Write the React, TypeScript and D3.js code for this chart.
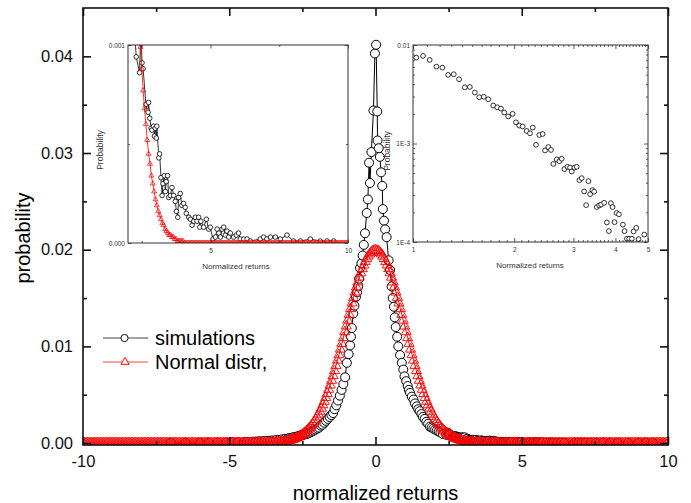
import { useEffect, useRef } from 'react';
import * as d3 from 'd3';

const FONT = '"Liberation Sans", Arial, Helvetica, sans-serif';
const RED = '#ff0000';

// bin centres of the normal curve: -10 ... 10, step 0.05
const normalBins = d3.range(-200, 201).map((i) => i / 20);

// probability per bin
const normalProb = [
  0, 0, 0, 0, 0, 0, 0, 0, 0, 0,
  0, 0, 0, 0, 0, 0, 0, 0, 0, 0,
  0, 0, 0, 0, 0, 0, 0, 0, 0, 0,
  0, 0, 0, 0, 0, 0, 0, 0, 0, 0,
  0, 0, 0, 0, 0, 0, 0, 0, 0, 0,
  0, 0, 0, 0, 0, 0, 0, 0, 0, 0,
  0, 0, 0, 0, 0, 0, 0, 0, 0, 0,
  0, 0, 0, 0, 0, 0, 0, 0, 0, 0,
  0, 0, 0, 0, 0, 0, 0, 0, 0, 0,
  0, 0, 0, 0, 0, 0, 0, 0, 0, 0,
  0, 0, 0, 0, 0, 0, 0, 0, 0, 0,
  0, 0, 0, 0, 0, 0, 0, 0, 0, 0,
  0.00001,
  0.00001, 0.00001, 0.00001, 0.00001, 0.00002, 0.00002, 0.00003, 0.00003, 0.00004, 0.00004,
  0.00005, 0.00006, 0.00007, 0.00009, 0.0001, 0.00012, 0.00014, 0.00016, 0.00019, 0.00022,
  0.00026, 0.0003, 0.00034, 0.0004, 0.00045, 0.00052, 0.0006, 0.00068, 0.00077, 0.00088,
  0.00099, 0.00112, 0.00126, 0.00142, 0.00159, 0.00177, 0.00198, 0.0022, 0.00244, 0.0027,
  0.00298, 0.00328, 0.0036, 0.00395, 0.00431, 0.0047, 0.00511, 0.00555, 0.006, 0.00648,
  0.00697, 0.00749, 0.00802, 0.00857, 0.00913, 0.00971, 0.0103, 0.01089, 0.0115, 0.0121,
  0.0127, 0.0133, 0.0139, 0.01448, 0.01506, 0.01561, 0.01615, 0.01666, 0.01715, 0.0176,
  0.01803, 0.01841, 0.01876, 0.01907, 0.01933, 0.01955, 0.01972, 0.01985, 0.01992,
  0.01995,
  0.01992, 0.01985, 0.01972, 0.01955, 0.01933, 0.01907, 0.01876, 0.01841, 0.01803,
  0.0176, 0.01715, 0.01666, 0.01615, 0.01561, 0.01506, 0.01448, 0.0139, 0.0133, 0.0127,
  0.0121, 0.0115, 0.01089, 0.0103, 0.00971, 0.00913, 0.00857, 0.00802, 0.00749, 0.00697,
  0.00648, 0.006, 0.00555, 0.00511, 0.0047, 0.00431, 0.00395, 0.0036, 0.00328, 0.00298,
  0.0027, 0.00244, 0.0022, 0.00198, 0.00177, 0.00159, 0.00142, 0.00126, 0.00112, 0.00099,
  0.00088, 0.00077, 0.00068, 0.0006, 0.00052, 0.00045, 0.0004, 0.00034, 0.0003, 0.00026,
  0.00022, 0.00019, 0.00016, 0.00014, 0.00012, 0.0001, 0.00009, 0.00007, 0.00006, 0.00005,
  0.00004, 0.00004, 0.00003, 0.00003, 0.00002, 0.00002, 0.00001, 0.00001, 0.00001, 0.00001,
  0.00001,
  0, 0, 0, 0, 0, 0, 0, 0, 0, 0,
  0, 0, 0, 0, 0, 0, 0, 0, 0, 0,
  0, 0, 0, 0, 0, 0, 0, 0, 0, 0,
  0, 0, 0, 0, 0, 0, 0, 0, 0, 0,
  0, 0, 0, 0, 0, 0, 0, 0, 0, 0,
  0, 0, 0, 0, 0, 0, 0, 0, 0, 0,
  0, 0, 0, 0, 0, 0, 0, 0, 0, 0,
  0, 0, 0, 0, 0, 0, 0, 0, 0, 0,
  0, 0, 0, 0, 0, 0, 0, 0, 0, 0,
  0, 0, 0, 0, 0, 0, 0, 0, 0, 0,
  0, 0, 0, 0, 0, 0, 0, 0, 0, 0,
  0, 0, 0, 0, 0, 0, 0, 0, 0, 0,
];

// simulated histogram: [normalized return, probability]
const simulations: [number, number][] = [
  [-7.0, 0.00001], [-6.5, 0.00002], [-6.0, 0.00002], [-5.7, 0.00003], [-5.4, 0.00004],
  [-5.1, 0.00005], [-4.9, 0.00007], [-4.7, 0.00009], [-4.5, 0.0001], [-4.4, 0.00011],
  [-4.3, 0.00012], [-4.2, 0.00014], [-4.1, 0.00016], [-4.0, 0.00018], [-3.9, 0.00019],
  [-3.8, 0.00021], [-3.7, 0.00023], [-3.6, 0.00025], [-3.5, 0.00027], [-3.4, 0.0003],
  [-3.3, 0.00033], [-3.2, 0.00038], [-3.1, 0.00042], [-3.01, 0.00046], [-2.95, 0.0005],
  [-2.89, 0.00054], [-2.83, 0.00058], [-2.77, 0.00061], [-2.71, 0.00066], [-2.65, 0.0007],
  [-2.59, 0.00076], [-2.53, 0.0008], [-2.47, 0.00085], [-2.41, 0.0009], [-2.35, 0.00096],
  [-2.29, 0.00102], [-2.23, 0.0011], [-2.17, 0.0012], [-2.11, 0.0013], [-2.05, 0.0014],
  [-1.99, 0.0015], [-1.93, 0.0016], [-1.87, 0.0018], [-1.81, 0.0019], [-1.75, 0.0021],
  [-1.69, 0.0023], [-1.63, 0.0025], [-1.57, 0.0027], [-1.51, 0.0029], [-1.45, 0.0031],
  [-1.4, 0.0035], [-1.34, 0.0039], [-1.28, 0.0044], [-1.22, 0.0049], [-1.16, 0.0055],
  [-1.1, 0.0061], [-1.04, 0.0068], [-0.98, 0.0083], [-0.92, 0.0092], [-0.87, 0.0101],
  [-0.84, 0.011], [-0.81, 0.0119], [-0.76, 0.0134], [-0.72, 0.0142], [-0.67, 0.0151],
  [-0.63, 0.0156], [-0.59, 0.0162], [-0.56, 0.017], [-0.53, 0.0181], [-0.48, 0.0186],
  [-0.44, 0.0194], [-0.4, 0.0205], [-0.36, 0.0217], [-0.3, 0.0238], [-0.26, 0.0252],
  [-0.22, 0.029], [-0.19, 0.0269], [-0.14, 0.0301], [-0.07, 0.0344], [-0.02, 0.0403],
  [0.02, 0.0412], [0.06, 0.0343], [0.07, 0.0313], [0.11, 0.0305], [0.15, 0.0296],
  [0.19, 0.028], [0.23, 0.0266], [0.25, 0.0242], [0.29, 0.023], [0.33, 0.0221],
  [0.38, 0.0213], [0.45, 0.0189], [0.5, 0.0179], [0.55, 0.0162], [0.59, 0.015],
  [0.63, 0.0141], [0.66, 0.013], [0.69, 0.012], [0.74, 0.011], [0.78, 0.01],
  [0.84, 0.0091], [0.9, 0.0083], [0.95, 0.0076], [0.99, 0.0069], [1.05, 0.0064],
  [1.1, 0.0059], [1.14, 0.0055], [1.18, 0.0052], [1.24, 0.0048], [1.3, 0.0045],
  [1.35, 0.0041], [1.41, 0.0038], [1.46, 0.0035], [1.51, 0.0033], [1.57, 0.003],
  [1.62, 0.0027], [1.68, 0.0025], [1.74, 0.0022], [1.8, 0.002], [1.86, 0.0017],
  [1.92, 0.0016], [1.98, 0.0015], [2.04, 0.0014], [2.1, 0.0013], [2.16, 0.0012],
  [2.22, 0.0011], [2.3, 0.00094], [2.42, 0.00086], [2.47, 0.00108], [2.51, 0.00091],
  [2.55, 0.00088], [2.65, 0.0007], [2.69, 0.00067], [2.73, 0.00066], [2.75, 0.00071],
  [2.79, 0.00063], [2.84, 0.00058], [2.87, 0.00057], [2.93, 0.00059], [2.96, 0.00054],
  [2.99, 0.00058], [3.03, 0.00053], [3.05, 0.00059], [3.12, 0.00043], [3.15, 0.00045],
  [3.2, 0.00033], [3.24, 0.00024], [3.27, 0.0003], [3.32, 0.00034], [3.36, 0.00026],
  [3.39, 0.00031], [3.44, 0.00034], [3.48, 0.00023], [3.54, 0.00024], [3.6, 0.00028],
  [3.66, 0.00024], [3.72, 0.00021], [3.76, 0.00016], [3.81, 0.00013], [3.84, 0.00023],
  [3.9, 0.00025], [3.96, 0.00019], [4.02, 0.0002], [4.08, 0.00018], [4.12, 0.00015],
  [4.21, 0.00013], [4.27, 0.00012], [4.33, 0.00009], [4.39, 0.00011], [4.45, 0.00013],
  [4.51, 0.00011], [4.57, 0.00013], [4.61, 0.00008], [4.65, 0.00011], [4.75, 0.00008],
  [4.85, 0.00012], [4.93, 0.00007], [4.99, 0.00008], [5.09, 0.00002], [5.18, 0.00003],
  [5.24, 0.00007], [5.3, 0.00005], [5.36, 0.00003], [5.42, 0.00007], [5.48, 0.00008],
  [5.54, 0.00004], [5.6, 0.00006], [5.66, 0.00003], [5.72, 0.00005], [5.84, 0.00003],
  [5.94, 0.00004], [6.02, 0.00005], [6.08, 0.00002], [6.21, 0.00002], [6.33, 0.00002],
  [6.45, 0.00001], [6.81, 0.00002], [6.93, 0.00003], [7.05, 0.00002], [7.18, 0.00003],
  [7.36, 0.00003], [7.54, 0.00002], [7.78, 0.00004], [8.02, 0.00001], [8.27, 0.00001],
  [8.63, 0.00002], [8.99, 0.00001], [9.24, 0.00001], [9.48, 0.00001],
];

// positive tail on log-log axes
const logTail: [number, number][] = [
  [1.023, 0.00744], [1.071, 0.00774], [1.121, 0.00705], [1.174, 0.00603], [1.223, 0.00589],
  [1.272, 0.00497], [1.322, 0.00505], [1.371, 0.00449], [1.426, 0.00372], [1.476, 0.00375],
  [1.527, 0.00329], [1.574, 0.00295], [1.624, 0.00298], [1.674, 0.00281], [1.732, 0.00243],
  [1.78, 0.00233], [1.826, 0.00226], [1.868, 0.00206], [1.92, 0.00188], [1.978, 0.002],
  [2.024, 0.00164], [2.071, 0.00152], [2.119, 0.00149], [2.178, 0.00134], [2.228, 0.00127],
  [2.27, 0.00145], [2.322, 0.00097], [2.375, 0.00122], [2.43, 0.00125], [2.47, 0.00085],
  [2.527, 0.00092], [2.573, 0.00086], [2.615, 0.00062], [2.676, 0.00069], [2.725, 0.00066],
  [2.769, 0.0007], [2.82, 0.00055], [2.879, 0.00058], [2.932, 0.00057], [2.966, 0.00052],
  [3.021, 0.00057], [3.069, 0.00058], [3.126, 0.000425], [3.176, 0.000445], [3.228, 0.000326],
  [3.273, 0.000237], [3.325, 0.000415], [3.364, 0.000306], [3.418, 0.000336], [3.458, 0.000324],
  [3.522, 0.000226], [3.579, 0.000235], [3.627, 0.00024], [3.703, 0.00025], [3.772, 0.000158],
  [3.824, 0.000129], [3.877, 0.000248], [3.922, 0.000226], [3.976, 0.000159], [4.031, 0.000197],
  [4.097, 0.000191], [4.21, 0.00015], [4.258, 0.000129], [4.327, 0.000108], [4.397, 0.000108],
  [4.478, 0.000108], [4.53, 0.000128], [4.613, 0.000139], [4.688, 0.000107], [4.874, 0.000119],
];

const mainXTicks = [-10, -5, 0, 5, 10];
const mainXMinor = [-7.5, -2.5, 2.5, 7.5];
const mainYTicks = [0, 0.01, 0.02, 0.03, 0.04];
const mainYMinor = [0.005, 0.015, 0.025, 0.035];
const tailXTicks = [5, 10];
const tailXMinor = [2.5, 7.5];
const tailYTicks = [0, 0.001];
const tailYMinor = [0.0005];
const logXTicks = [1, 2, 3, 4, 5];
const logXMinor = d3.range(11, 50).filter((i) => i % 10 !== 0).map((i) => i / 10);
const logYTicks = [1e-4, 1e-3, 1e-2];
const logYLabels = ['1E-4', '1E-3', '0.01'];
const logYMinor = [2, 3, 4, 5, 6, 7, 8, 9].flatMap((m) => [m * 1e-4, m * 1e-3]);

type Sel = d3.Selection<SVGGElement, unknown, null, undefined>;

// draws one axis with inward ticks and strips the domain line
function addAxis(parent: Sel, axis: any, tx: number, ty: number, size: number, color: string, sw: number) {
  const g = parent.append('g').attr('transform', `translate(${tx},${ty})`).call(axis);
  g.select('.domain').remove();
  g.attr('font-family', FONT).attr('font-size', size);
  g.selectAll('.tick line').attr('stroke', color).attr('stroke-width', sw);
  g.selectAll('.tick text').attr('fill', color);
  return g;
}

function framedAxes(
  parent: Sel,
  x: any,
  y: any,
  o: {
    xt: number[]; xm: number[]; yt: number[]; ym: number[];
    major: number; minor: number; size: number; color: string; sw: number;
    xpad: number; ypad: number; xfmt: (d: any) => string; yfmt: (d: any) => string;
  },
) {
  const [x0, x1] = x.range();
  const [y0, y1] = y.range(); // y0 bottom, y1 top
  const none = () => '';
  addAxis(parent, d3.axisBottom(x).tickValues(o.xt).tickSize(-o.major).tickPadding(o.xpad).tickFormat(o.xfmt), 0, y0, o.size, o.color, o.sw);
  addAxis(parent, d3.axisBottom(x).tickValues(o.xm).tickSize(-o.minor).tickFormat(none), 0, y0, o.size, o.color, o.sw);
  addAxis(parent, d3.axisTop(x).tickValues(o.xt).tickSize(-o.major).tickFormat(none), 0, y1, o.size, o.color, o.sw);
  addAxis(parent, d3.axisTop(x).tickValues(o.xm).tickSize(-o.minor).tickFormat(none), 0, y1, o.size, o.color, o.sw);
  addAxis(parent, d3.axisLeft(y).tickValues(o.yt).tickSize(-o.major).tickPadding(o.ypad).tickFormat(o.yfmt), x0, 0, o.size, o.color, o.sw);
  addAxis(parent, d3.axisLeft(y).tickValues(o.ym).tickSize(-o.minor).tickFormat(none), x0, 0, o.size, o.color, o.sw);
  addAxis(parent, d3.axisRight(y).tickValues(o.yt).tickSize(-o.major).tickFormat(none), x1, 0, o.size, o.color, o.sw);
  addAxis(parent, d3.axisRight(y).tickValues(o.ym).tickSize(-o.minor).tickFormat(none), x1, 0, o.size, o.color, o.sw);
}

export default function App() {
  const svgRef = useRef<SVGSVGElement>(null);

  useEffect(() => {
    if (!svgRef.current) return;
    const svg = d3.select(svgRef.current);
    svg.selectAll('*').remove();

    const root = svg.append('g') as unknown as Sel;
    const defs = svg.append('defs');

    // ---------- main chart ----------
    const x = d3.scaleLinear().domain([-10, 10]).range([83, 668]);
    const y = d3.scaleLinear().domain([-0.0002, 0.045]).range([445, 8]);

    defs.append('clipPath').attr('id', 'clip-main')
      .append('rect').attr('x', 83).attr('y', 8).attr('width', 585).attr('height', 437);

    const normal: [number, number][] = normalBins.map((b, i) => [b, normalProb[i]]);
    const tri = (s: number) => d3.symbol(d3.symbolTriangle, s)() as string;

    const plot = root.append('g').attr('clip-path', 'url(#clip-main)');
    plot.append('path')
      .datum(simulations)
      .attr('d', d3.line<[number, number]>().x((d) => x(d[0])).y((d) => y(d[1])))
      .attr('fill', 'none').attr('stroke', '#000').attr('stroke-width', 1);
    plot.append('g').selectAll('circle').data(simulations).join('circle')
      .attr('cx', (d) => x(d[0])).attr('cy', (d) => y(d[1])).attr('r', 4.5)
      .attr('fill', '#fff').attr('stroke', '#000').attr('stroke-width', 1);
    plot.append('path')
      .datum(normal)
      .attr('d', d3.line<[number, number]>().x((d) => x(d[0])).y((d) => y(d[1])))
      .attr('fill', 'none').attr('stroke', RED).attr('stroke-width', 1);
    plot.append('g').selectAll('path').data(normal).join('path')
      .attr('transform', (d) => `translate(${x(d[0])},${y(d[1])})`)
      .attr('d', tri(44))
      .attr('fill', 'none').attr('stroke', RED).attr('stroke-width', 0.9);

    root.append('rect').attr('x', 83).attr('y', 8).attr('width', 585).attr('height', 437)
      .attr('fill', 'none').attr('stroke', '#111').attr('stroke-width', 1.6);

    framedAxes(root, x, y, {
      xt: mainXTicks, xm: mainXMinor, yt: mainYTicks, ym: mainYMinor,
      major: 8, minor: 4, size: 16.5, color: '#111', sw: 1.6, xpad: 10, ypad: 10,
      xfmt: (d) => String(d), yfmt: d3.format('.2f'),
    });

    root.append('text').attr('x', 375.5).attr('y', 500).attr('text-anchor', 'middle')
      .attr('font-family', FONT).attr('font-size', 20).text('normalized returns');
    root.append('text').attr('transform', 'translate(29.5,238) rotate(-90)').attr('text-anchor', 'middle')
      .attr('font-family', FONT).attr('font-size', 20).text('probability');

    // legend
    const lg = root.append('g').attr('font-family', FONT).attr('font-size', 20);
    lg.append('line').attr('x1', 103).attr('x2', 148).attr('y1', 338).attr('y2', 338).attr('stroke', '#444');
    lg.append('circle').attr('cx', 124.5).attr('cy', 338).attr('r', 3.6).attr('fill', '#fff').attr('stroke', '#111');
    lg.append('text').attr('x', 155).attr('y', 345).text('simulations');
    lg.append('line').attr('x1', 103).attr('x2', 148).attr('y1', 362).attr('y2', 362).attr('stroke', '#f44');
    lg.append('path').attr('transform', 'translate(125,362)').attr('d', tri(28))
      .attr('fill', '#fff').attr('stroke', RED);
    lg.append('text').attr('x', 155).attr('y', 369).text('Normal distr,');

    // ---------- inset 1: tail on linear axes ----------
    const ix = d3.scaleLinear().domain([2, 10]).range([128, 348]);
    const iy = d3.scaleLinear().domain([0, 0.001]).range([243, 45]);
    defs.append('clipPath').attr('id', 'clip-tail')
      .append('rect').attr('x', 128).attr('y', 45).attr('width', 220).attr('height', 198);
    const in1 = root.append('g');
    in1.append('rect').attr('x', 128).attr('y', 45).attr('width', 220).attr('height', 198).attr('fill', '#fff');
    const p1 = in1.append('g').attr('clip-path', 'url(#clip-tail)');
    const simTail = simulations.filter((d) => d[0] > 1.9);
    const normTail = normal.filter((d) => d[0] > 1.9);
    p1.append('path').datum(simTail)
      .attr('d', d3.line<[number, number]>().x((d) => ix(d[0])).y((d) => iy(d[1])))
      .attr('fill', 'none').attr('stroke', '#000').attr('stroke-width', 0.8);
    p1.append('g').selectAll('circle').data(simTail).join('circle')
      .attr('cx', (d) => ix(d[0])).attr('cy', (d) => iy(d[1])).attr('r', 2.3)
      .attr('fill', '#fff').attr('stroke', '#000').attr('stroke-width', 0.8);
    p1.append('path').datum(normTail)
      .attr('d', d3.line<[number, number]>().x((d) => ix(d[0])).y((d) => iy(d[1])))
      .attr('fill', 'none').attr('stroke', RED).attr('stroke-width', 0.8);
    p1.append('g').selectAll('path').data(normTail).join('path')
      .attr('transform', (d) => `translate(${ix(d[0])},${iy(d[1])})`)
      .attr('d', tri(11))
      .attr('fill', 'none').attr('stroke', RED).attr('stroke-width', 0.7);
    in1.append('rect').attr('x', 128).attr('y', 45).attr('width', 220).attr('height', 198)
      .attr('fill', 'none').attr('stroke', '#333').attr('stroke-width', 1);
    framedAxes(in1 as unknown as Sel, ix, iy, {
      xt: tailXTicks, xm: tailXMinor, yt: tailYTicks, ym: tailYMinor,
      major: 3.5, minor: 2, size: 6.5, color: '#333', sw: 0.8, xpad: 5, ypad: 3,
      xfmt: (d) => String(d), yfmt: d3.format('.3f'),
    });
    in1.append('text').attr('x', 236).attr('y', 269).attr('text-anchor', 'middle')
      .attr('font-family', FONT).attr('font-size', 8).attr('fill', '#333').text('Normalized returns');
    in1.append('text').attr('transform', 'translate(103,150) rotate(-90)').attr('text-anchor', 'middle')
      .attr('font-family', FONT).attr('font-size', 8.5).attr('fill', '#333').text('Probability');

    // ---------- inset 2: tail on log-log axes ----------
    const lx = d3.scaleLog().domain([1, 5]).range([413, 648]);
    const ly = d3.scaleLog().domain([1e-4, 1e-2]).range([242, 45]);
    const in2 = root.append('g');
    in2.append('rect').attr('x', 413).attr('y', 45).attr('width', 235).attr('height', 197).attr('fill', '#fff');
    in2.append('g').selectAll('circle').data(logTail).join('circle')
      .attr('cx', (d) => lx(d[0])).attr('cy', (d) => ly(d[1])).attr('r', 2.4)
      .attr('fill', '#fff').attr('stroke', '#000').attr('stroke-width', 0.8);
    in2.append('rect').attr('x', 413).attr('y', 45).attr('width', 235).attr('height', 197)
      .attr('fill', 'none').attr('stroke', '#333').attr('stroke-width', 1);
    framedAxes(in2 as unknown as Sel, lx, ly, {
      xt: logXTicks, xm: logXMinor, yt: logYTicks, ym: logYMinor,
      major: 4, minor: 2, size: 6.5, color: '#333', sw: 0.8, xpad: 5, ypad: 3,
      xfmt: (d) => String(d), yfmt: (d) => logYLabels[logYTicks.indexOf(d)],
    });
    in2.append('text').attr('x', 530).attr('y', 268).attr('text-anchor', 'middle')
      .attr('font-family', FONT).attr('font-size', 8).attr('fill', '#333').text('Normalized returns');
    in2.append('text').attr('transform', 'translate(390,151) rotate(-90)').attr('text-anchor', 'middle')
      .attr('font-family', FONT).attr('font-size', 8.5).attr('fill', '#333').text('Probability');
  }, []);

  return (
    <svg
      ref={svgRef}
      width={691}
      height={503}
      viewBox="0 0 691 503"
      style={{ position: 'absolute', left: 0, top: 0, background: '#fff', display: 'block' }}
    />
  );
}
